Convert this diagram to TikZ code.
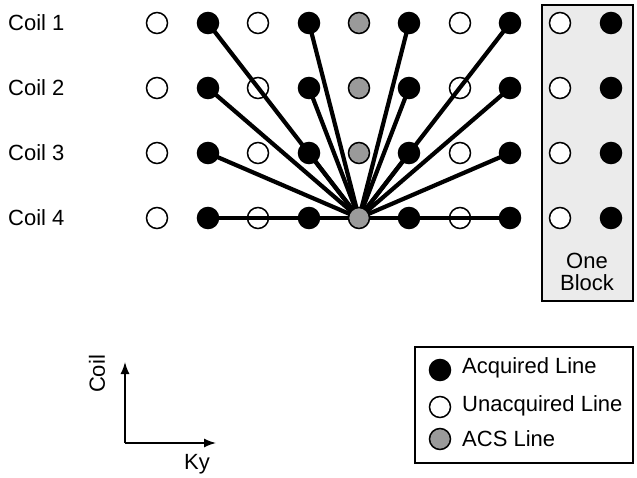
\documentclass[tikz,border=0pt]{standalone}
\usepackage{fontspec}
\setmainfont{Liberation Sans}
\usetikzlibrary{arrows.meta}
\definecolor{acsgray}{HTML}{9A9A9A}
\definecolor{blockgray}{HTML}{EBEBEB}
\begin{document}
\begin{tikzpicture}[x=1pt,y=-1pt,
  every node/.style={font=\fontsize{22}{25}\selectfont},
  dot/.style={circle, draw=black, line width=1.5pt, minimum size=21pt, inner sep=0pt},
  opendot/.style={dot, fill=white},
  acqdot/.style={dot, fill=black},
  acsdot/.style={dot, fill=acsgray},
  link/.style={line width=4.2pt},
  frame/.style={draw=black, line width=1.5pt},
  axis/.style={line width=1.5pt, -{Latex[length=12pt,width=9pt]}},
  lbl/.style={anchor=west, inner sep=0pt}]
\useasboundingbox (0,0) rectangle (637,478);

% block outline
\draw[frame, fill=blockgray] (542,5) rectangle (633,301);
\node[inner sep=0pt, align=center] (blocklbl) at (587,272) {One\\[-3pt]Block};

% coil labels
\foreach \r/\y in {1/23,2/88,3/153,4/218}
  \node[lbl] (coil\r) at (8,\y) {Coil \r};

% unacquired (open) lines: drawn first so connectors pass over them
\foreach \r/\y in {1/23,2/88,3/153,4/218}{
  \node[opendot] (u\r a) at (157,\y) {};
  \node[opendot] (u\r b) at (258,\y) {};
  \node[opendot] (u\r c) at (460,\y) {};
  \node[opendot] (u\r d) at (560,\y) {};
}

% acquired line positions
\foreach \r/\y in {1/23,2/88,3/153,4/218}{
  \coordinate (a\r a) at (208,\y);
  \coordinate (a\r b) at (309,\y);
  \coordinate (a\r c) at (409,\y);
  \coordinate (a\r d) at (510,\y);
}
\coordinate (acs4) at (359,218);

% kernel connectors from the target point
\foreach \r in {1,2,3}
  \foreach \k in {a,b,c,d}
    \draw[link] (acs4) -- (a\r\k);
\draw[link] (a4a) -- (a4d);

% acquired and ACS dots on top
\foreach \r/\y in {1/23,2/88,3/153,4/218}{
  \node[acqdot] at (a\r a) {};
  \node[acqdot] at (a\r b) {};
  \node[acqdot] at (a\r c) {};
  \node[acqdot] at (a\r d) {};
  \node[acqdot] (b\r) at (611,\y) {};
  \node[acsdot] (g\r) at (359,\y) {};
}

% axes
\coordinate (org) at (125,443);
\coordinate (ytip) at (125,362);
\coordinate (xtip) at (216,443);
\draw[axis] (org) -- (ytip);
\draw[axis] (org) -- (xtip);
\node[rotate=90, inner sep=0pt] (ylbl) at (97,374) {Coil};
\node[inner sep=0pt] (xlbl) at (197,464) {Ky};

% legend
\draw[frame] (415,347) rectangle (633,463);
\node[acqdot] (lg1) at (440,370) {};
\node[opendot] (lg2) at (440,407) {};
\node[acsdot] (lg3) at (440,439) {};
\node[lbl] (lt1) at (462,368) {Acquired Line};
\node[lbl] (lt2) at (462,406) {Unacquired Line};
\node[lbl] (lt3) at (462,439) {ACS Line};
\end{tikzpicture}
\end{document}
